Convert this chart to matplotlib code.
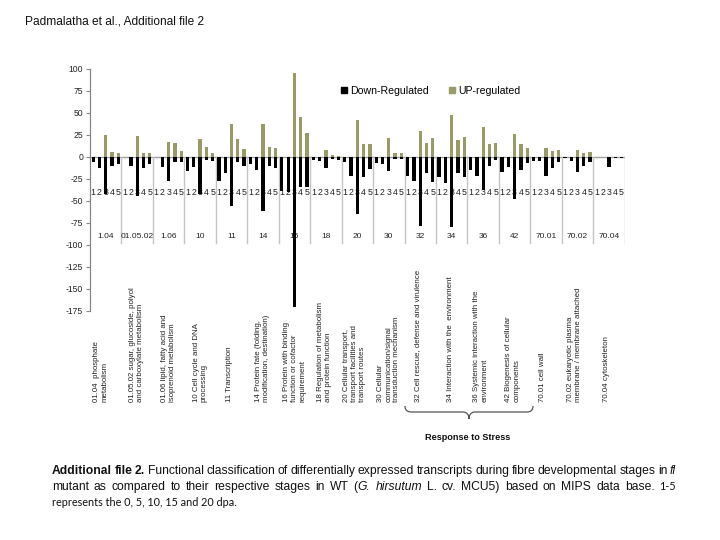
import matplotlib
matplotlib.use('Agg')
import matplotlib.pyplot as plt
import matplotlib.transforms as mtransforms
from matplotlib.path import Path
from matplotlib.patches import PathPatch
from matplotlib.lines import Line2D

plt.rcParams['font.family'] = ['Liberation Sans', 'DejaVu Sans']

# ---------------- data ----------------
groups = ["1.04", "01.05.02", "1.06", "10", "11", "14", "16", "18", "20",
          "30", "32", "34", "36", "42", "70.01", "70.02", "70.04"]
stages = ["1", "2", "3", "4", "5"]

down_regulated = [
    [-6, -13, -42, -10, -8],      # 1.04
    [0, -10, -44, -12, -8],       # 01.05.02
    [0, -11, -27, -6, -6],        # 1.06
    [-16, -11, -42, -3, -5],      # 10
    [-27, -18, -56, -6, -10],     # 11
    [-8, -15, -61, -10, -13],     # 14
    [-39, -40, -170, -34, -34],   # 16
    [-3, -5, -13, -2, -3],        # 18
    [-6, -22, -65, -23, -14],     # 20
    [-7, -8, -16, -2, -2],        # 30
    [-22, -27, -78, -18, -28],    # 32
    [-23, -29, -80, -18, -23],    # 34
    [-15, -22, -37, -10, -3],     # 36
    [-17, -11, -48, -15, -7],     # 42
    [-4, -5, -22, -12, -6],       # 70.01
    [-1, -4, -17, -10, -6],       # 70.02
    [0, 0, -11, -1.5, -1],        # 70.04
]
up_regulated = [
    [0, 0, 25, 6, 5],
    [0, 0, 24, 4, 5],
    [0, 0, 17, 16, 7],
    [0, 0, 21, 11, 5],
    [0, 0, 38, 21, 9],
    [0, 0, 38, 11, 10],
    [0, 0, 96, 45, 27],
    [0, 0, 8, 2, 1],
    [0, 0, 42, 15, 15],
    [0, 0, 22, 5, 4],
    [0, 0, 30, 16, 22],
    [0, 0, 48, 19, 23],
    [0, 0, 34, 15, 16],
    [0, 0, 26, 15, 10],
    [0, 0, 10, 7, 8],
    [0, 0, 8, 4, 6],
    [0, 0, 0, 0, 0],
]
series_names = ["Down-Regulated", "UP-regulated"]
y_ticks = [100, 75, 50, 25, 0, -25, -50, -75, -100, -125, -150, -175]

descriptions = [
    "01.04  phosphate\nmetabolism",
    "01.05.02 sugar, glucoside, polyol\nand carboxylate metabolism",
    "01.06 lipid, fatty acid and\nisoprenoid metabolism",
    "10 Cell cycle and DNA\nprocessing",
    "11 Transcription",
    "14 Protein fate (folding,\nmodification, destination)",
    "16 Protein with binding\nfunction or cofactor\nrequirement",
    "18 Regulation of metabolism\nand protein function",
    "20 Cellular transport,\ntransport facilities and\ntransport routes",
    "30 Cellular\ncommunication/signal\ntransduction mechanism",
    "32 Cell rescue, defense and virulence",
    "34 Interaction with the  environment",
    "36 Systemic interaction with the\nenvironment",
    "42 Biogenesis of cellular\ncomponents",
    "70.01 cell wall",
    "70.02 eukaryotic plasma\nmembrane / membrane attached",
    "70.04 cytoskeleton",
]
brace_label = "Response to Stress"
title = "Padmalatha et al., Additional file 2"

# ---------------- layout ----------------
W, H = 720, 540
desc_x_px = [101, 136, 169, 200, 230, 262, 295, 324, 354, 389, 418, 451,
             481, 513, 543, 575, 607]

fig = plt.figure(figsize=(7.2, 5.4), dpi=100)
fig.patch.set_facecolor('white')
ax = fig.add_axes([90 / W, 1 - 311 / H, (624.7 - 90) / W, (311 - 69) / H])

black = '#000000'
olive = '#9a9a68'
n_st = len(stages)
xs, dn, upv = [], [], []
for g in range(len(groups)):
    for s in range(n_st):
        xs.append(g * n_st + s + 0.5)
        dn.append(down_regulated[g][s])
        upv.append(up_regulated[g][s])

ax.axhline(0, color='#a0a0a0', lw=1.0, zorder=1)
ax.bar(xs, dn, width=0.52, color=black, zorder=3, label=series_names[0])
ax.bar(xs, upv, width=0.52, color=olive, zorder=3, label=series_names[1])

ax.set_xlim(0, len(groups) * n_st)
ax.set_ylim(-175, 100)
ax.set_yticks(y_ticks)
ax.set_yticklabels([str(v) for v in y_ticks], fontsize=6.2, color='#222222')
ax.set_xticks([])
for sp in ['top', 'right', 'bottom']:
    ax.spines[sp].set_visible(False)
ax.spines['left'].set_color('#888888')
ax.spines['left'].set_linewidth(0.9)
ax.tick_params(axis='y', direction='out', length=3, width=0.8, color='#888888', pad=2)
ax.set_facecolor('none')

# category axis: stage numbers, group labels, separators
for g, name in enumerate(groups):
    for s, st in enumerate(stages):
        ax.text(g * n_st + s + 0.5, -40, st, ha='center', va='center',
                fontsize=6.3, color='#222222', zorder=2)
    ax.text(g * n_st + n_st / 2, -90, name, ha='center', va='center',
            fontsize=6.0, color='#222222', zorder=2)
for g in range(1, len(groups) + 1):
    ax.plot([g * n_st, g * n_st], [0, -97.5], color='#c4c4c4', lw=1.0, zorder=1)

# legend
handles = [Line2D([], [], marker='s', color='none', markerfacecolor=black,
                  markeredgecolor=black, markersize=4.5),
           Line2D([], [], marker='s', color='none', markerfacecolor=olive,
                  markeredgecolor=olive, markersize=4.5)]
fig.legend(handles, series_names, ncol=2, loc='center',
           bbox_to_anchor=(431 / W, 1 - 91 / H), frameon=False, fontsize=7.6,
           handlelength=0.5, handletextpad=0.3, columnspacing=2.0,
           borderpad=0, borderaxespad=0)

# descriptions (rotated)
for x, d in zip(desc_x_px, descriptions):
    fig.text(x / W, 1 - 402 / H, d, rotation=90, ha='center', va='bottom',
             multialignment='left', fontsize=5.7, linespacing=1.2,
             color='#222222')

# brace
def P(x, y):
    return (x / W, 1 - y / H)

verts = [P(405, 406), P(405, 410), P(407, 412), P(412, 412), P(463, 412),
         P(467, 412), P(469, 415), P(469, 419),
         P(469, 415), P(471, 412), P(475, 412), P(527, 412),
         P(531, 412), P(533, 410), P(533, 406)]
codes = [Path.MOVETO, Path.CURVE4, Path.CURVE4, Path.CURVE4, Path.LINETO,
         Path.CURVE4, Path.CURVE4, Path.CURVE4,
         Path.CURVE4, Path.CURVE4, Path.CURVE4, Path.LINETO,
         Path.CURVE4, Path.CURVE4, Path.CURVE4]
fig.patches.append(PathPatch(Path(verts, codes), transform=fig.transFigure,
                             fill=False, edgecolor='#555555', lw=0.9))
fig.text(468 / W, 1 - 437 / H, brace_label, ha='center', va='center',
         fontsize=6.6, fontweight='bold', color='#111111')

# title
fig.text(25 / W, 1 - 22 / H, title, ha='left', va='center', fontsize=8.6,
         color='#111111')

# caption with justification
ident = mtransforms.IdentityTransform()
renderer = fig.canvas.get_renderer()
NARROW = ['Liberation Sans Narrow', 'Liberation Sans']
n_p = dict(family=NARROW, fontsize=8.7)
b_p = dict(family=NARROW, fontsize=8.7, fontweight='bold')
i_p = dict(family=NARROW, fontsize=8.7, style='italic')
l_p = dict(family=['Lato', 'DejaVu Sans'], fontsize=7.8)


def W_(txt, p=n_p):
    return [(txt, p)]


line1 = [W_("Additional", b_p), W_("file", b_p), W_("2.", b_p)] + \
    [W_(w) for w in "Functional classification of differentially expressed transcripts during fibre developmental stages in".split()] + \
    [W_("fl", i_p)]
line2 = [W_(w) for w in "mutant as compared to their respective stages in WT".split()] + \
    [[("(", n_p), ("G.", i_p)], W_("hirsutum", i_p)] + \
    [W_(w) for w in "L. cv. MCU5) based on MIPS data base.".split()] + \
    [W_("1-5", l_p)]


def place_line(words, y_px, x0, x1):
    objs = []
    total = 0
    for w in words:
        pieces = []
        ww = 0
        for txt, p in w:
            t = fig.text(0, 0, txt, transform=ident, va='baseline', ha='left',
                         color='#111111', **p)
            wd = t.get_window_extent(renderer).width
            pieces.append((t, wd))
            ww += wd
        objs.append(pieces)
        total += ww
    gap = (x1 - x0 - total) / (len(words) - 1)
    x = x0
    for pieces in objs:
        for t, wd in pieces:
            t.set_position((x, H - y_px))
            x += wd
        x += gap


place_line(line1, 474, 52, 676)
place_line(line2, 490, 52, 676)
fig.text(52, H - 506, "represents the 0, 5, 10, 15 and 20 dpa.", transform=ident,
         va='baseline', ha='left', color='#111111', **l_p)

fig.savefig('out.png', dpi=100)
